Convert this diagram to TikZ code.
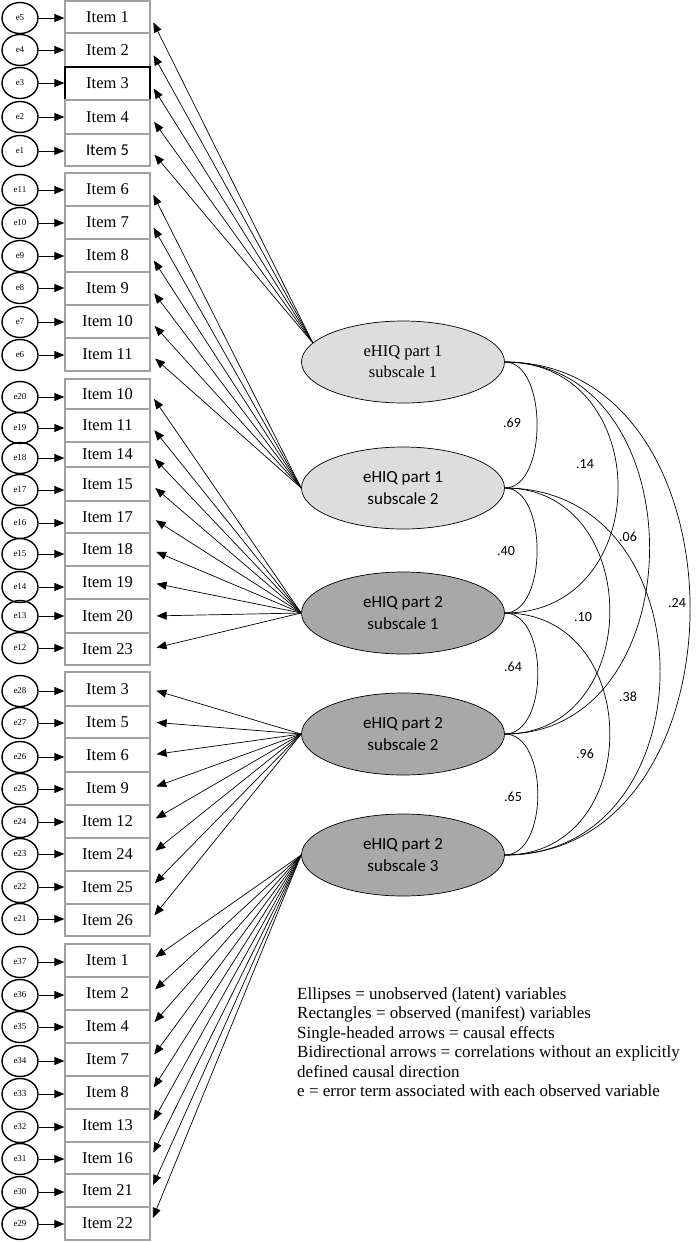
\documentclass[tikz,border=0pt]{standalone}
\usepackage{fontspec}
\setmainfont{Liberation Serif}
\newfontfamily\calfont{Carlito}
\usetikzlibrary{arrows.meta,shapes.geometric}
\definecolor{boxgray}{RGB}{160,160,160}
\definecolor{lightfill}{RGB}{221,221,222}
\definecolor{darkfill}{RGB}{168,168,168}
\newcommand\mkitem[7]{%
  \pgfmathsetmacro\mkH{#5-#4}%
  \pgfmathsetmacro\mkC{(#4+#5)/2}%
  \node[itembox,minimum height=\mkH pt,#1] (#2) at (107.5,\mkC) {#3};
  \node[err] (e#6) at (20,#7) {e#6};
  \draw[etip] (e#6.east) -- (e#6.east -| #2.west);
}
\begin{document}
\begin{tikzpicture}[x=1pt,y=-1pt,
  itembox/.style={draw=boxgray,line width=1.3pt,minimum width=85pt,inner sep=0pt,font=\fontsize{16.5}{16.5}\selectfont},
  blackbox/.style={draw=black},
  sansitem/.style={font=\calfont\fontsize{16.5}{16.5}\selectfont},
  err/.style={ellipse,draw,line width=1.4pt,minimum width=36pt,minimum height=31pt,inner sep=0pt,font=\fontsize{9}{9}\selectfont},
  lat/.style={ellipse,draw,line width=0.7pt,minimum width=203pt,minimum height=82pt,inner sep=0pt,align=center},
  etip/.style={-{Triangle[length=10pt,width=8pt]},line width=0.8pt},
  ltip/.style={-{Triangle[length=10pt,width=8pt]},line width=0.7pt,shorten >=6pt},
  corr/.style={line width=0.7pt},
  clab/.style={font=\calfont\fontsize{14}{14}\selectfont,inner sep=0pt}]
\useasboundingbox (0,0) rectangle (696,1242);
\fill[white] (0,0) rectangle (696,1242);

% group 1
\mkitem{}{a1}{Item 1}{1}{33}{5}{18}
\mkitem{}{a2}{Item 2}{33}{67}{4}{50}
\mkitem{blackbox}{a3}{Item 3}{67}{100}{3}{83}
\mkitem{}{a4}{Item 4}{100}{134}{2}{117}
\mkitem{sansitem}{a5}{Item 5}{134}{166}{1}{151}
% group 2
\mkitem{}{b1}{Item 6}{173}{206}{11}{190}
\mkitem{}{b2}{Item 7}{206}{239}{10}{223}
\mkitem{}{b3}{Item 8}{239}{272}{9}{256}
\mkitem{}{b4}{Item 9}{272}{305}{8}{288}
\mkitem{}{b5}{Item 10}{305}{338}{7}{322}
\mkitem{}{b6}{Item 11}{338}{371}{6}{355}
% group 3
\mkitem{}{c1}{Item 10}{379}{409}{20}{397}
\mkitem{}{c2}{Item 11}{409}{442}{19}{428}
\mkitem{}{c3}{Item 14}{442}{467}{18}{458}
\mkitem{}{c4}{Item 15}{467}{501}{17}{490}
\mkitem{}{c5}{Item 17}{501}{533}{16}{523}
\mkitem{}{c6}{Item 18}{533}{566}{15}{554}
\mkitem{}{c7}{Item 19}{566}{599}{14}{587}
\mkitem{}{c8}{Item 20}{599}{633}{13}{616}
\mkitem{}{c9}{Item 23}{633}{665}{12}{648}
% group 4
\mkitem{}{d1}{Item 3}{672}{706}{28}{691}
\mkitem{}{d2}{Item 5}{706}{738}{27}{723}
\mkitem{}{d3}{Item 6}{738}{772}{26}{757}
\mkitem{}{d4}{Item 9}{772}{805}{25}{789}
\mkitem{}{d5}{Item 12}{805}{838}{24}{822}
\mkitem{}{d6}{Item 24}{838}{871}{23}{854}
\mkitem{}{d7}{Item 25}{871}{904}{22}{887}
\mkitem{}{d8}{Item 26}{904}{936}{21}{919}
% group 5
\mkitem{}{f1}{Item 1}{944}{977}{37}{962}
\mkitem{}{f2}{Item 2}{977}{1010}{36}{995}
\mkitem{}{f3}{Item 4}{1010}{1043}{35}{1027}
\mkitem{}{f4}{Item 7}{1043}{1076}{34}{1061}
\mkitem{}{f5}{Item 8}{1076}{1109}{33}{1094}
\mkitem{}{f6}{Item 13}{1109}{1142}{32}{1127}
\mkitem{}{f7}{Item 16}{1142}{1174}{31}{1159}
\mkitem{}{f8}{Item 21}{1174}{1207}{30}{1192}
\mkitem{}{f9}{Item 22}{1207}{1240}{29}{1224}

% latent variables
\node[lat,fill=lightfill,font=\fontsize{16.5}{21}\selectfont] (L1) at (403,362) {eHIQ part 1\\subscale 1};
\node[lat,fill=lightfill,font=\calfont\fontsize{17}{22}\selectfont] (L2) at (403,488) {eHIQ part 1\\subscale 2};
\node[lat,fill=darkfill,font=\calfont\fontsize{17}{22}\selectfont] (L3) at (403,613) {eHIQ part 2\\subscale 1};
\node[lat,fill=darkfill,font=\calfont\fontsize{17}{22}\selectfont] (L4) at (403,734) {eHIQ part 2\\subscale 2};
\node[lat,fill=darkfill,font=\calfont\fontsize{17}{22}\selectfont] (L5) at (403,855) {eHIQ part 2\\subscale 3};

% loadings
\foreach \k in {1,...,5} \draw[ltip] (L1.168) -- (a\k.east);
\foreach \k in {1,...,6} \draw[ltip] (L2.west) -- (b\k.east);
\foreach \k in {1,...,9} \draw[ltip] (L3.west) -- (c\k.east);
\foreach \k in {1,...,8} \draw[ltip] (L4.west) -- (d\k.east);
\foreach \k in {1,...,9} \draw[ltip] (L5.west) -- (f\k.east);

% correlations
\draw[corr] (L1.east) .. controls +(43,0) and +(43,0) .. (L2.east);
\draw[corr] (L1.east) .. controls +(151,0) and +(151,0) .. (L3.east);
\draw[corr] (L1.east) .. controls +(193,0) and +(193,0) .. (L4.east);
\draw[corr] (L1.east) .. controls +(247,0) and +(247,0) .. (L5.east);
\draw[corr] (L2.east) .. controls +(43,0) and +(43,0) .. (L3.east);
\draw[corr] (L2.east) .. controls +(140,0) and +(140,0) .. (L4.east);
\draw[corr] (L2.east) .. controls +(207,0) and +(207,0) .. (L5.east);
\draw[corr] (L3.east) .. controls +(44,0) and +(44,0) .. (L4.east);
\draw[corr] (L3.east) .. controls +(140,0) and +(140,0) .. (L5.east);
\draw[corr] (L4.east) .. controls +(44,0) and +(44,0) .. (L5.east);

\node[clab] (r12) at (512,423) {.69};
\node[clab] (r13) at (585,464) {.14};
\node[clab] (r14) at (628,537) {.06};
\node[clab] (r15) at (677,603) {.24};
\node[clab] (r23) at (506,551) {.40};
\node[clab] (r24) at (583,617) {.10};
\node[clab] (r25) at (628,697) {.38};
\node[clab] (r34) at (513,667) {.64};
\node[clab] (r35) at (585,754) {.96};
\node[clab] (r45) at (513,797) {.65};

% legend
\node[anchor=north west,inner sep=0pt,align=left,font=\fontsize{17}{19.5}\selectfont] (legend) at (297,987)
{Ellipses = unobserved (latent) variables\\
Rectangles = observed (manifest) variables\\
Single-headed arrows = causal effects\\
Bidirectional arrows = correlations without an explicitly\\
defined causal direction\\
e = error term associated with each observed variable};
\end{tikzpicture}
\end{document}
